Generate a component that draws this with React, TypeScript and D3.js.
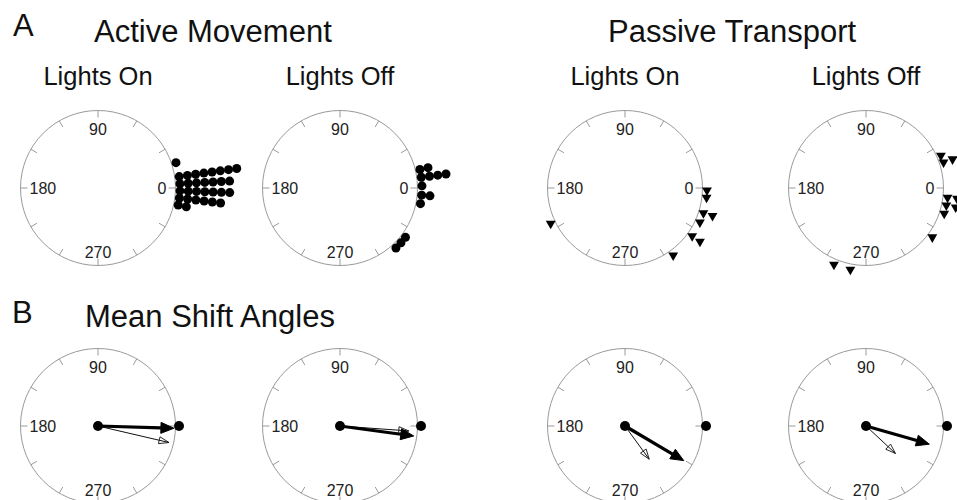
import React from "react";
import * as d3 from "d3";

// ---- data ----
const panelTitles = ["Active Movement", "Passive Transport"];
const conditionLabels = ["Lights On", "Lights Off", "Lights On", "Lights Off"];
const tickAngles = [0, 30, 60, 90, 120, 150, 180, 210, 240, 270, 300, 330];
const labelAngles = [0, 90, 180, 270];

// circular dot plots: bin angle (deg) and number of stacked markers
const activeOnAngles = [18, 8, 3, -2, -7, -12];
const activeOnCounts = [1, 8, 7, 7, 6, 2];
const activeOffAngles = [13, 7.5, 1.5, -5, -11, -37, -42, -47];
const activeOffCounts = [2, 4, 1, 2, 1, 1, 1, 1];
const passiveOnAngles = [-1, -6, -17, -24, -35, -54, 205];
const passiveOnCounts = [1, 1, 2, 1, 2, 1, 1];
const passiveOffAngles = [24, 19, -6, -11.5, -17.5, -36, 247, 259];
const passiveOffCounts = [1, 2, 3, 2, 1, 1, 1, 1];

// mean shift vectors (angle deg, length as fraction of radius)
const thickAngles = [-1.7, -7.7, -30.5, -16];
const thickLengths = [0.98, 0.96, 0.88, 0.85];
const thinAngles = [-13.1, -4.1, -53.9, -43];
const thinLengths = [0.94, 0.89, 0.53, 0.52];

const FONT = "'Liberation Sans', Arial, Helvetica, sans-serif";
const W = 957;
const H = 500;
const R = 77.5;
const colX = [98, 340, 625, 866];
const topY = 188;
const botY = 426;

const rad = d3.scaleLinear().domain([0, 360]).range([0, 2 * Math.PI]);
const rScale = d3.scaleLinear().domain([0, 1]).range([0, R]);

function polar(cx: number, cy: number, deg: number, dist: number): [number, number] {
  const a = rad(deg);
  return [cx + dist * Math.cos(a), cy - dist * Math.sin(a)];
}

function Dial({ cx, cy, showZero }: { cx: number; cy: number; showZero: boolean }) {
  return (
    <g>
      <circle cx={cx} cy={cy} r={R} fill="none" stroke="#9a9a9a" strokeWidth={1} />
      {tickAngles.map((a) => {
        const [x1, y1] = polar(cx, cy, a, R - 7);
        const [x2, y2] = polar(cx, cy, a, R);
        return <line key={a} x1={x1} y1={y1} x2={x2} y2={y2} stroke="#9a9a9a" strokeWidth={1} />;
      })}
      {labelAngles
        .filter((a) => showZero || a !== 0)
        .map((a) => {
          let x = cx;
          let y = cy;
          let anchor: "start" | "middle" | "end" = "middle";
          if (a === 0) {
            x = cx + R - 9;
            y = cy + 5.6;
            anchor = "end";
          } else if (a === 180) {
            x = cx - R + 9;
            y = cy + 5.6;
            anchor = "start";
          } else if (a === 90) {
            y = cy - R + 24;
          } else {
            y = cy + R - 8;
          }
          return (
            <text key={a} x={x} y={y} textAnchor={anchor} fontSize={16} fill="#222" fontFamily={FONT}>
              {String(a)}
            </text>
          );
        })}
    </g>
  );
}

const triPath = d3.symbol().type(d3.symbolTriangle).size(42)() as string;

function Stacks({
  cx,
  cy,
  angles,
  counts,
  kind,
}: {
  cx: number;
  cy: number;
  angles: number[];
  counts: number[];
  kind: "dot" | "tri";
}) {
  const step = kind === "dot" ? 8.3 : 9.5;
  const marks: JSX.Element[] = [];
  angles.forEach((a, i) => {
    for (let k = 0; k < counts[i]; k++) {
      const [x, y] = polar(cx, cy, a, R + 4.5 + k * step);
      if (kind === "dot") {
        marks.push(<circle key={`${i}-${k}`} cx={x} cy={y} r={4.5} fill="#000" />);
      } else {
        marks.push(
          <path key={`${i}-${k}`} d={triPath} transform={`translate(${x},${y + 1}) rotate(180)`} fill="#000" />
        );
      }
    }
  });
  return <g>{marks}</g>;
}

function Arrow({
  cx,
  cy,
  angle,
  length,
  thick,
}: {
  cx: number;
  cy: number;
  angle: number;
  length: number;
  thick: boolean;
}) {
  const L = rScale(length);
  const headL = thick ? 13 : 10;
  const headW = thick ? 5.5 : 3.5;
  const [tx, ty] = polar(cx, cy, angle, L);
  const [bx, by] = polar(cx, cy, angle, L - headL);
  const a = rad(angle);
  const px = Math.sin(a) * headW;
  const py = Math.cos(a) * headW;
  const head = `M${tx},${ty}L${bx + px},${by + py}L${bx - px},${by - py}Z`;
  if (thick) {
    return (
      <g>
        <line x1={cx} y1={cy} x2={bx} y2={by} stroke="#000" strokeWidth={3.2} />
        <path d={head} fill="#000" stroke="#000" strokeWidth={1} strokeLinejoin="miter" />
      </g>
    );
  }
  return (
    <g>
      <line x1={cx} y1={cy} x2={tx} y2={ty} stroke="#111" strokeWidth={1} />
      <path d={head} fill="none" stroke="#111" strokeWidth={0.9} />
    </g>
  );
}

export default function App() {
  const stackSets = [
    { angles: activeOnAngles, counts: activeOnCounts, kind: "dot" as const },
    { angles: activeOffAngles, counts: activeOffCounts, kind: "dot" as const },
    { angles: passiveOnAngles, counts: passiveOnCounts, kind: "tri" as const },
    { angles: passiveOffAngles, counts: passiveOffCounts, kind: "tri" as const },
  ];
  return (
    <svg
      width={W}
      height={H}
      viewBox={`0 0 ${W} ${H}`}
      style={{ position: "absolute", left: 0, top: 0, background: "#fff" }}
    >
      <rect x={0} y={0} width={W} height={H} fill="#fff" />
      <text x={13} y={36} fontSize={31} fontFamily={FONT} fill="#111">A</text>
      <text x={94} y={42} fontSize={31} fontFamily={FONT} fill="#111">{panelTitles[0]}</text>
      <text x={608} y={42} fontSize={31} fontFamily={FONT} fill="#111">{panelTitles[1]}</text>
      {conditionLabels.map((t, i) => (
        <text key={i} x={colX[i]} y={85} fontSize={25.5} textAnchor="middle" fontFamily={FONT} fill="#111">
          {t}
        </text>
      ))}
      <text x={12} y={323} fontSize={31} fontFamily={FONT} fill="#111">B</text>
      <text x={85} y={327} fontSize={31} fontFamily={FONT} fill="#111">Mean Shift Angles</text>

      {colX.map((cx, i) => (
        <g key={`top-${i}`}>
          <Dial cx={cx} cy={topY} showZero={true} />
          <Stacks cx={cx} cy={topY} angles={stackSets[i].angles} counts={stackSets[i].counts} kind={stackSets[i].kind} />
        </g>
      ))}

      {colX.map((cx, i) => {
        const [rx, ry] = polar(cx, botY, 0, R + 3.5);
        return (
          <g key={`bot-${i}`}>
            <Dial cx={cx} cy={botY} showZero={false} />
            <Arrow cx={cx} cy={botY} angle={thinAngles[i]} length={thinLengths[i]} thick={false} />
            <Arrow cx={cx} cy={botY} angle={thickAngles[i]} length={thickLengths[i]} thick={true} />
            <circle cx={cx} cy={botY} r={5} fill="#000" />
            <circle cx={rx} cy={ry} r={5} fill="#000" />
          </g>
        );
      })}
    </svg>
  );
}
